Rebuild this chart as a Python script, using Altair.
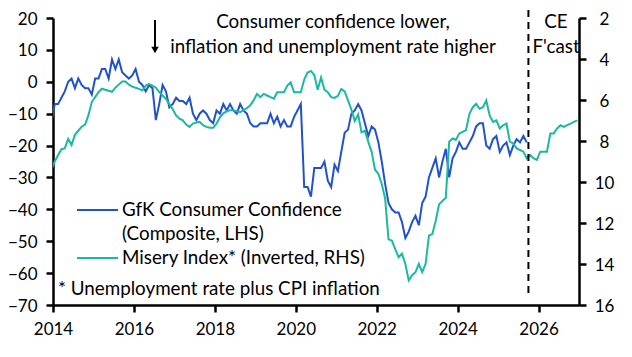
import altair as alt
import pandas as pd

# ---------------- data (monthly, first value = Dec 2013) ----------------
start_year, start_month = 2013, 12

gfk = [
    -13,
    -7, -7, -5, -3, 0, 1, -2, 1, -1, -2, -2, -4,            # 2014
    1, 1, 4, 4, 1, 7, 4, 7, 3, 2, 1, 2,                      # 2015
    4, 0, -1, -3, -1, -2, -12, -7, -1, -3, -8, -7,           # 2016
    -5, -6, -6, -7, -5, -10, -12, -10, -9, -10, -12, -13,    # 2017
    -9, -10, -7, -9, -7, -9, -10, -7, -9, -10, -13, -14,     # 2018
    -14, -13, -13, -13, -10, -13, -11, -14, -12, -14, -14, -11,  # 2019
    -9, -7, -33, -33, -36, -27, -27, -27, -25, -31, -33, -26,    # 2020
    -28, -22, -16, -15, -10, -9, -7, -9, -13, -17, -14, -15,     # 2021
    -19, -25, -32, -38, -40, -41, -41, -44, -49, -47, -44, -42,  # 2022
    -45, -38, -36, -30, -27, -24, -30, -25, -21, -30, -24, -22,  # 2023
    -19, -21, -21, -19, -17, -14, -13, -13, -20, -21, -18, -17,  # 2024
    -22, -20, -19, -23, -20, -18, -19, -17, -19,                 # 2025
]

misery = [
    9.4,
    9.0, 8.7, 8.4, 8.36, 7.9, 8.2, 7.7, 7.5, 7.3, 7.2, 6.75, 6.1,              # 2014
    5.86, 5.62, 5.45, 5.5, 5.55, 5.6, 5.4, 5.25, 5.1, 5.1, 5.25, 5.35,         # 2015
    5.4, 5.46, 5.54, 5.3, 5.22, 5.3, 5.4, 5.62, 5.78, 5.94, 6.2, 6.45,         # 2016
    6.75, 6.91, 6.99, 7.2, 7.31, 7.15, 7.1, 7.07, 7.23, 7.31, 7.35, 7.35,      # 2017
    7.15, 6.85, 6.65, 6.55, 6.5, 6.5, 6.55, 6.59, 6.5, 6.4, 6.26, 6.02,        # 2018
    5.7, 5.86, 5.7, 5.78, 5.86, 5.94, 5.62, 5.62, 5.62, 5.3, 5.14, 5.62,       # 2019
    5.62, 5.62, 5.0, 4.66, 4.58, 4.78, 5.5, 4.9, 5.5, 5.62, 5.86, 5.9,         # 2020
    5.8, 5.46, 5.58, 6.02, 6.47, 7.03, 6.7, 7.58, 7.5, 8.04, 8.52, 9.4,        # 2021
    9.6, 10.1, 10.8, 12.8, 12.86, 13.27, 13.67, 13.5, 14.0, 14.8, 14.55, 14.4, # 2022
    14.0, 14.4, 14.0, 12.62, 12.54, 11.9, 11.09, 10.93, 10.77, 8.04, 7.88, 7.95,  # 2023
    7.63, 7.55, 7.47, 6.67, 6.35, 6.19, 6.43, 6.35, 6.02, 6.75, 7.07, 6.99,    # 2024
    7.39, 7.23, 7.15, 8.04, 8.12, 8.36, 8.44, 8.52, 8.84, 8.68, 8.84, 8.92,    # 2025
    8.52, 8.52, 8.52, 7.63, 7.63, 7.39, 7.23, 7.31, 7.23, 7.15, 7.07, 6.99,    # 2026
]

forecast_start = [2025.75]
x_ticks = [2014, 2016, 2018, 2020, 2022, 2024, 2026]
left_ticks = [-70, -60, -50, -40, -30, -20, -10, 0, 10, 20]
right_ticks = [2, 4, 6, 8, 10, 12, 14, 16]

title_lines = ["Consumer confidence lower,", "inflation and unemployment rate higher"]
fcast_lines = ["CE", "F'cast"]
legend_gfk = ["GfK Consumer Confidence", "(Composite, LHS)"]
legend_misery = "Misery Index* (Inverted, RHS)"
footnote = "* Unemployment rate plus CPI inflation"

BLUE = "#2152CC"
TEAL = "#1DB8A2"
FONT = "Lato"
FS = 18.8     # annotation text
TFS = 17      # tick labels


def month_positions(n):
    return [start_year + (start_month - 1 + i + 0.5) / 12 for i in range(n)]


blue_df = pd.DataFrame({"x": month_positions(len(gfk)), "v": gfk})
teal_df = pd.DataFrame({"x": month_positions(len(misery)), "v": misery})

x_scale = alt.Scale(domain=[2014, 2027], nice=False, zero=False)
x_axis = alt.Axis(values=x_ticks, format="d", title=None, tickSize=7, labelPadding=9,
                  domainWidth=2.5, tickWidth=2.5, domainColor="black", tickColor="black",
                  labelFont=FONT, labelFontSize=TFS, labelColor="black", grid=False,
                  labelFlush=False)

yaxis_common = dict(title=None, tickSize=7, domainWidth=2.5, tickWidth=2.5,
                    domainColor="black", tickColor="black", labelFont=FONT,
                    labelFontSize=TFS, labelColor="black", grid=False,
                    labelBaseline="alphabetic", labelOffset=6, labelFlush=False)

blue = alt.Chart(blue_df).mark_line(color=BLUE, strokeWidth=2, clip=True).encode(
    x=alt.X("x:Q", scale=x_scale, axis=x_axis),
    y=alt.Y("v:Q", scale=alt.Scale(domain=[-70, 20], nice=False, zero=False),
            axis=alt.Axis(values=left_ticks, labelPadding=9, **yaxis_common)),
)

teal = alt.Chart(teal_df).mark_line(color=TEAL, strokeWidth=2, clip=True).encode(
    x=alt.X("x:Q", scale=x_scale, axis=x_axis),
    y=alt.Y("v:Q", scale=alt.Scale(domain=[2, 16], reverse=True, nice=False, zero=False),
            axis=alt.Axis(orient="right", values=right_ticks, labelPadding=18,
                          labelAlign="center", **yaxis_common)),
)

dashed = alt.Chart(pd.DataFrame({"x": forecast_start})).mark_rule(
    color="black", strokeWidth=2, strokeDash=[7, 5]
).encode(
    x=alt.X("x:Q", scale=x_scale, axis=x_axis),
    y=alt.value(-8),
    y2=alt.value(280),
)


def text_layer(txt, x, y, align="center", baseline="alphabetic"):
    return alt.Chart(pd.DataFrame({"t": [txt]})).mark_text(
        font=FONT, fontSize=FS, color="black", align=align, baseline=baseline
    ).encode(text="t:N", x=alt.value(x), y=alt.value(y))


texts = [
    text_layer(title_lines[0], 280, 10),
    text_layer(title_lines[1], 280, 35),
    text_layer(fcast_lines[0], 503, 10),
    text_layer(fcast_lines[1], 503, 35),
    text_layer(legend_gfk[0], 69, 198, align="left"),
    text_layer(legend_gfk[1], 69, 222, align="left"),
    text_layer(legend_misery, 69, 246, align="left"),
    text_layer(footnote, 5, 277, align="left"),
]

arrow_shaft = alt.Chart(pd.DataFrame({"a": [0]})).mark_rule(color="black", strokeWidth=2).encode(
    x=alt.value(102), y=alt.value(2), y2=alt.value(29)
)
arrow_head = alt.Chart(pd.DataFrame({"a": [0]})).mark_point(
    shape="triangle-down", filled=True, color="black", size=55, opacity=1
).encode(x=alt.value(102), y=alt.value(32))

leg_blue = alt.Chart(pd.DataFrame({"a": [0]})).mark_rule(color=BLUE, strokeWidth=2).encode(
    x=alt.value(24), x2=alt.value(65), y=alt.value(192)
)
leg_teal = alt.Chart(pd.DataFrame({"a": [0]})).mark_rule(color=TEAL, strokeWidth=2).encode(
    x=alt.value(24), x2=alt.value(65), y=alt.value(240)
)

chart = alt.layer(
    blue, teal, dashed, arrow_shaft, arrow_head, leg_blue, leg_teal, *texts
).resolve_scale(y="independent").properties(
    width=526, height=287,
    autosize=alt.AutoSizeParams(type="none"),
    padding={"left": 45, "top": 10, "right": 45, "bottom": 44},
).configure_view(stroke=None)

chart.save("out.html", embed_options={"renderer": "svg", "actions": False})
